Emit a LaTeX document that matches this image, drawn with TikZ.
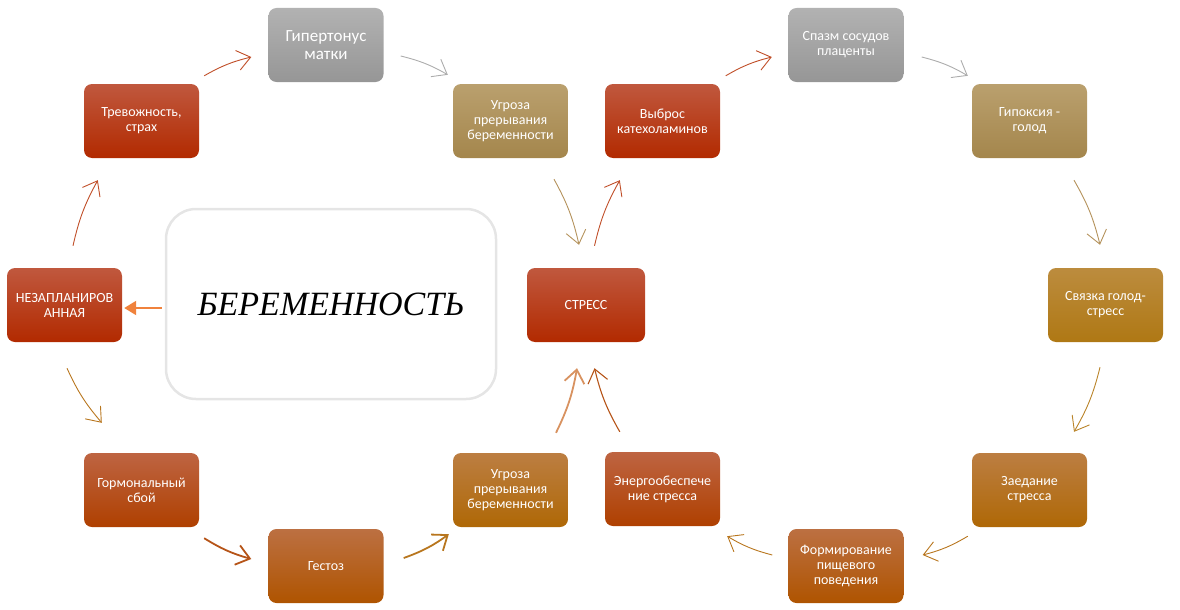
\documentclass[tikz,border=0pt]{standalone}
\usepackage{fontspec}
\setmainfont{Carlito}
\newfontfamily\timesfont{Liberation Serif}
\usetikzlibrary{arrows.meta,positioning,calc}

\definecolor{redtop}{RGB}{192,88,62}\definecolor{redbot}{RGB}{178,42,0}
\definecolor{graytop}{RGB}{178,178,178}\definecolor{graybot}{RGB}{150,150,150}
\definecolor{tantop}{RGB}{186,160,110}\definecolor{tanbot}{RGB}{164,134,76}
\definecolor{goldtop}{RGB}{188,140,62}\definecolor{goldbot}{RGB}{175,120,20}
\definecolor{ochretop}{RGB}{188,126,66}\definecolor{ochrebot}{RGB}{175,104,6}
\definecolor{orangetop}{RGB}{188,112,66}\definecolor{orangebot}{RGB}{175,84,0}
\definecolor{browntop}{RGB}{190,100,66}\definecolor{brownbot}{RGB}{175,64,0}
\definecolor{lnred}{RGB}{192,78,40}\definecolor{lngray}{RGB}{172,172,172}
\definecolor{lntan}{RGB}{180,146,92}\definecolor{lngold}{RGB}{186,132,42}
\definecolor{lnochre}{RGB}{184,118,30}\definecolor{lnbrown}{RGB}{182,84,24}
\definecolor{lnlight}{RGB}{216,146,96}\definecolor{lnorange}{RGB}{240,130,60}

\begin{document}
\begin{tikzpicture}
    [x=1pt,y=1pt,
    box/.style={rounded corners=8pt,rectangle,minimum width=115pt,minimum height=74pt,inner sep=2pt,align=center,text=white,font=\fontsize{14}{15}\selectfont},
    boxred/.style={box,top color=redtop,bottom color=redbot},
    boxgray/.style={box,top color=graytop,bottom color=graybot},
    boxtan/.style={box,top color=tantop,bottom color=tanbot},
    boxgold/.style={box,top color=goldtop,bottom color=goldbot},
    boxochre/.style={box,top color=ochretop,bottom color=ochrebot},
    boxorange/.style={box,top color=orangetop,bottom color=orangebot},
    boxbrown/.style={box,top color=browntop,bottom color=brownbot},
    link/.style={-{Straight Barb[length=13pt,width=20pt]},line width=0.9pt}]
    \useasboundingbox (0,0) rectangle (1180,-610);

    % left ring
    \node[boxred] (nezap) at (64.5,-305) {НЕЗАПЛАНИРОВ\\АННАЯ};
    \node[boxred] (trev) at (141.5,-121) {Тревожность,\\страх};
    \node[boxgray,font=\fontsize{17}{18}\selectfont] (gip) at (326,-45) {Гипертонус\\матки};
    \node[boxtan] (ugrA) at (510.5,-121) {Угроза\\прерывания\\беременности};
    \node[boxred,minimum width=118pt] (stress) at (586,-305) {СТРЕСС};
    \node[boxbrown] (gorm) at (141.5,-490) {Гормональный\\сбой};
    \node[boxorange] (gestoz) at (326,-566) {Гестоз};
    \node[boxochre] (ugrB) at (510.5,-490) {Угроза\\прерывания\\беременности};
    % right ring
    \node[boxred] (vybros) at (662.5,-121) {Выброс\\катехоламинов};
    \node[boxgray] (spazm) at (846,-45) {Спазм сосудов\\плаценты};
    \node[boxtan] (gipox) at (1029.5,-121) {Гипоксия -\\голод};
    \node[boxgold] (svyaz) at (1105.5,-305) {Связка голод-\\стресс};
    \node[boxochre] (zaed) at (1029.5,-490) {Заедание\\стресса};
    \node[boxorange] (form) at (846,-566) {Формирование\\пищевого\\поведения};
    \node[boxbrown] (energ) at (662.5,-489) {Энергообеспече\\ние стресса};
    % centre
    \node[rounded corners=30pt,rectangle,draw=black!10,line width=2.5pt,minimum width=330pt,minimum height=190pt,font=\timesfont\itshape\fontsize{34}{40}\selectfont] (preg) at (331,-304) {БЕРЕМЕННОСТЬ};

    \draw[link,draw=lnred] ($(nezap.north)+(8.5,22)$) to[bend left=8] ($(trev.south west)+(14,-22)$);
    \draw[link,draw=lnred] ($(trev.north east)+(5,8)$) to[bend left=8] ($(gip.west)+(-17,-12)$);
    \draw[link,draw=lngray] ($(gip.east)+(17,-11)$) to[bend left=8] ($(ugrA.north west)+(-5,9)$);
    \draw[link,draw=lntan] ($(ugrA.south)+(43.5,-21)$) to[bend left=8] ($(stress.north)+(-7,23)$);
    \draw[link,draw=lnred] ($(stress.north)+(8.5,22)$) to[bend left=8] ($(vybros.south west)+(15,-22)$);
    \draw[link,draw=lnred] ($(vybros.north east)+(5.5,8)$) to[bend left=8] ($(spazm.west)+(-16.5,-12)$);
    \draw[link,draw=lngray] ($(spazm.east)+(18,-12)$) to[bend left=8] ($(gipox.north west)+(-4,8)$);
    \draw[link,draw=lntan] ($(gipox.south)+(44.5,-22)$) to[bend left=8] ($(svyaz.north)+(-5.5,23)$);
    \draw[link,draw=lngold] ($(svyaz.south)+(-5.5,-25)$) to[bend left=8] ($(zaed.north)+(44.5,21)$);
    \draw[link,draw=lnochre] ($(zaed.south west)+(-4,-9)$) to[bend left=8] ($(form.east)+(19,11)$);
    \draw[link,draw=lnochre] ($(form.west)+(-16,11)$) to[bend left=8] ($(energ.south east)+(7,-10)$);
    \draw[link,draw=lnbrown,line width=1.1pt] ($(energ.north west)+(15,20)$) to[bend left=8] ($(stress.south)+(8.5,-26)$);
    \draw[link,draw=lnlight,line width=1.8pt] ($(ugrB.north)+(45.5,20)$) to[bend right=8] ($(stress.south)+(-9,-26)$);
    \draw[link,draw=lnochre,line width=1.8pt] ($(gestoz.east)+(20,8)$) to[bend right=8] ($(ugrB.south west)+(-4,-7)$);
    \draw[link,draw=lnbrown,line width=1.8pt] ($(gorm.south east)+(5,-11)$) to[bend right=8] ($(gestoz.west)+(-17,7)$);
    \draw[link,draw=lnochre] ($(nezap.south)+(2.5,-26)$) to[bend right=8] ($(gorm.north west)+(18,30)$);
    \draw[-{Triangle[length=12pt,width=14pt]},draw=lnorange,fill=lnorange,line width=2pt] ($(preg.west)+(-3,-4)$) -- ($(nezap.east)+(2,-3)$);
\end{tikzpicture}
\end{document}
